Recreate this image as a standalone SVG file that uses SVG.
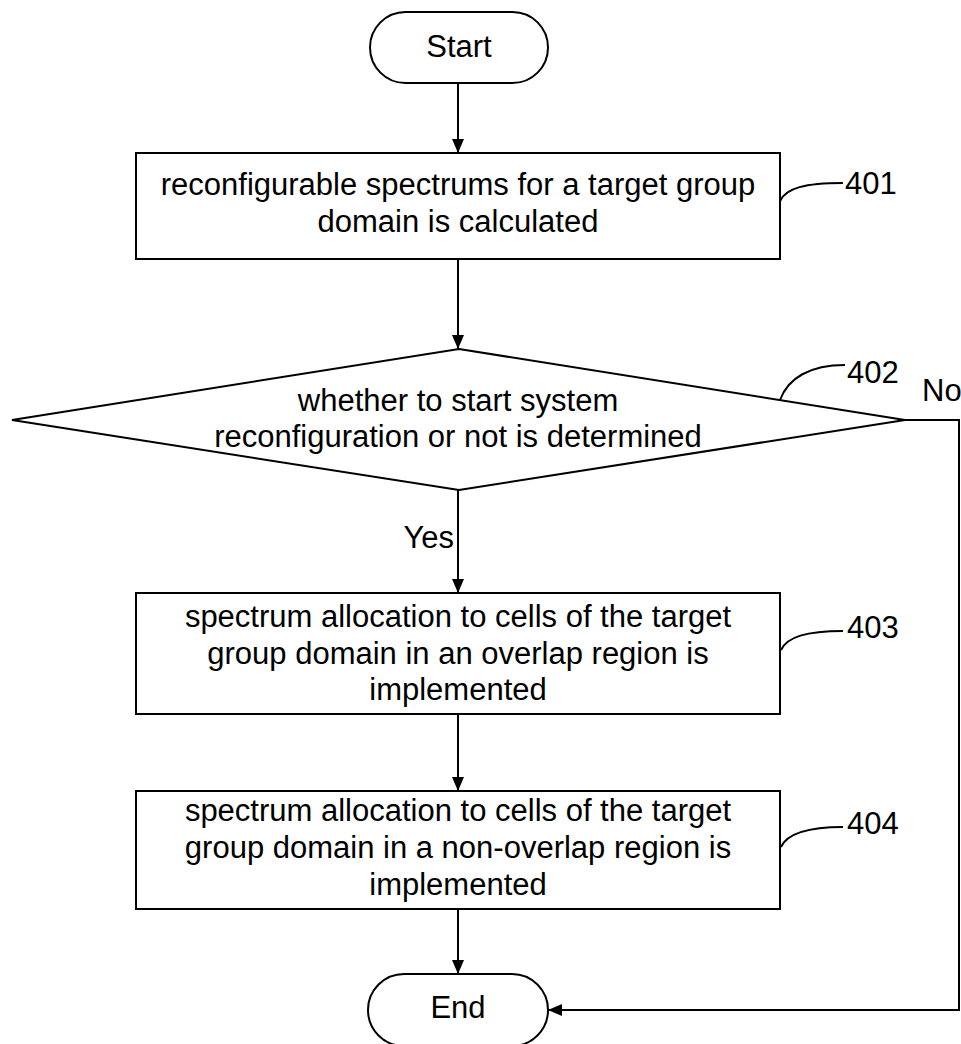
<svg xmlns="http://www.w3.org/2000/svg" width="961" height="1044" viewBox="0 0 961 1044">
<defs>
<style>
.shape{fill:#fff;stroke:#000;stroke-width:2}
.t{font-family:"Liberation Sans",Arial,sans-serif;font-size:31px;fill:#000;text-anchor:middle}
.lbl{font-family:"Liberation Sans",Arial,sans-serif;font-size:31px;fill:#000}
.conn{fill:none;stroke:#000;stroke-width:2}
.lead{fill:none;stroke:#000;stroke-width:2}
</style>
<marker id="arr" markerWidth="14" markerHeight="12" refX="14" refY="6" orient="auto" markerUnits="userSpaceOnUse">
<path d="M0,0 L14,6 L0,12 Z" fill="#000"/>
</marker>
</defs>
<rect width="961" height="1044" fill="#fff"/>
<g id="connectors">
<line class="conn" x1="458" y1="83" x2="458" y2="153" marker-end="url(#arr)"/>
<line class="conn" x1="458" y1="259" x2="458" y2="349" marker-end="url(#arr)"/>
<line class="conn" x1="458" y1="490" x2="458" y2="593" marker-end="url(#arr)"/>
<line class="conn" x1="458" y1="714" x2="458" y2="791" marker-end="url(#arr)"/>
<line class="conn" x1="458" y1="909" x2="458" y2="974" marker-end="url(#arr)"/>
<polyline class="conn" points="905,420 959,420 959,1010 548,1010" marker-end="url(#arr)"/>
<text class="lbl" x="454" y="548" text-anchor="end">Yes</text>
<text class="lbl" x="922" y="401">No</text>
</g>
<g id="start">
<rect class="shape" x="370" y="12" width="178" height="71" rx="35.5"/>
<text class="t" x="459" y="57">Start</text>
</g>
<g id="n401">
<rect class="shape" x="136" y="153" width="644" height="106"/>
<text class="t" x="458" y="195">reconfigurable spectrums for a target group</text>
<text class="t" x="458" y="232">domain is calculated</text>
<path class="lead" d="M780,201 C786,188 805,183 843,183"/>
<text class="lbl" x="845" y="194">401</text>
</g>
<g id="n402">
<polygon class="shape" points="459,349 905,420 459,490 12,420"/>
<text class="t" x="458" y="411">whether to start system</text>
<text class="t" x="458" y="447">reconfiguration or not is determined</text>
<path class="lead" d="M780,400 C788,378 810,365 845,365"/>
<text class="lbl" x="847" y="383">402</text>
</g>
<g id="n403">
<rect class="shape" x="136" y="593" width="644" height="121"/>
<text class="t" x="458" y="627">spectrum allocation to cells of the target</text>
<text class="t" x="458" y="664">group domain in an overlap region is</text>
<text class="t" x="458" y="700">implemented</text>
<path class="lead" d="M781,650 C787,637 806,631 843,631"/>
<text class="lbl" x="847" y="638">403</text>
</g>
<g id="n404">
<rect class="shape" x="136" y="791" width="644" height="118"/>
<text class="t" x="458" y="821">spectrum allocation to cells of the target</text>
<text class="t" x="458" y="858">group domain in a non-overlap region is</text>
<text class="t" x="458" y="895">implemented</text>
<path class="lead" d="M781,847 C787,834 806,827 843,827"/>
<text class="lbl" x="847" y="834">404</text>
</g>
<g id="end">
<rect class="shape" x="368" y="974" width="180" height="72" rx="36"/>
<text class="t" x="458" y="1018">End</text>
</g>
</svg>
